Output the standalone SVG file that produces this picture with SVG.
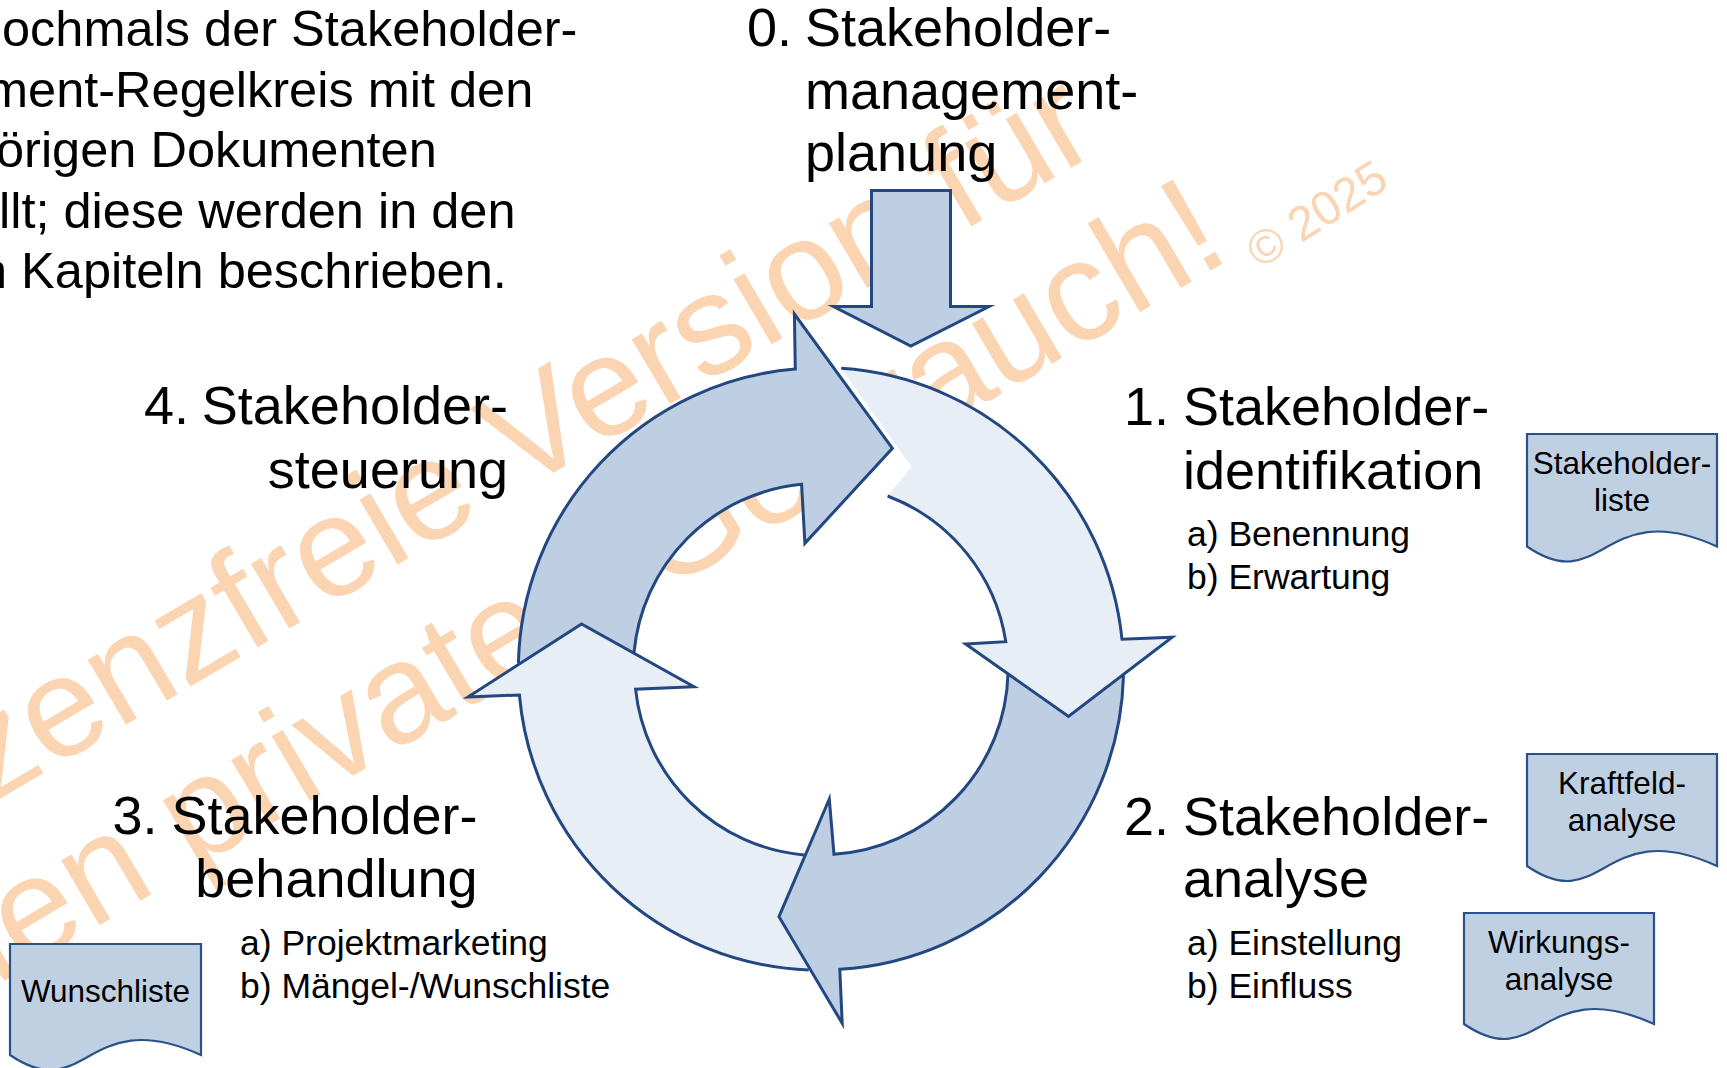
<svg xmlns="http://www.w3.org/2000/svg" width="1727" height="1068" viewBox="0 0 1727 1068">
<style>
.t{font-family:"Liberation Sans",Arial,sans-serif;fill:#000}
.h{font-size:54px}
.p{font-size:50.5px}
.s{font-size:35.5px}
.d{font-size:31.5px;text-anchor:middle}
.e{text-anchor:end}
.wm{font-family:"Liberation Sans",Arial,sans-serif;fill:#FBD4B2}
.dark{fill:#BFCFE3;stroke:none}
.light{fill:#E8EEF6;stroke:none}
.ol{fill:none;stroke:#234780;stroke-width:3;stroke-linejoin:miter;stroke-miterlimit:10}
.doc{fill:#C0D0E3;stroke:#2B5189;stroke-width:2.2}
</style>
<rect x="0" y="0" width="1727" height="1068" fill="#fff"/>

<g id="watermark">
<text class="wm" font-size="142" transform="translate(-107,861.8) rotate(-30.5)">Lizenzfreie Version für</text>
<text class="wm" font-size="142" transform="translate(-45.2,1010.1) rotate(-30.5)">den privaten Gebrauch!</text>
<text class="wm" font-size="48" transform="translate(1260,269.5) rotate(-32.5)">© 2025</text>
</g>

<g id="connectors">
<path class="dark" d="M518.4,663.3 A302,302 0 0 1 795.3,369 L794.4,314 L892.4,448.3 L804.9,543.3 L801.6,484.3 A186,186 0 0 0 634,652.7 L581.5,624 Z"/>
<path class="light" d="M841.2,368.3 A302,302 0 0 1 1122,639.3 L1172.2,637.3 L1068.5,716.5 L965.6,644 L1005.8,641.7 A186,186 0 0 0 887.6,496 L911.6,466.7 Z"/>
<path class="dark" d="M1123.5,675.5 A302,302 0 0 1 839.8,969.3 L842.2,1023.3 L779,916.7 L829.3,799 L834,854.3 A186,186 0 0 0 1008,673.5 L1068.5,716.5 Z"/>
<path class="light" d="M808.7,970 A302,302 0 0 1 519.4,695 L468,697 L581.5,624 L694,686.7 L635.6,689.3 A186,186 0 0 0 804,855 L779,916.7 Z"/>
<path class="ol" d="M518.4,663.3 A302,302 0 0 1 795.3,369 L794.4,314 L892.4,448.3 L804.9,543.3 L801.6,484.3 A186,186 0 0 0 634,652.7"/>
<path class="ol" d="M841.2,368.3 A302,302 0 0 1 1122,639.3 L1172.2,637.3 L1068.5,716.5 L965.6,644 L1005.8,641.7 A186,186 0 0 0 887.6,496"/>
<path class="ol" d="M1123.5,675.5 A302,302 0 0 1 839.8,969.3 L842.2,1023.3 L779,916.7 L829.3,799 L834,854.3 A186,186 0 0 0 1008,673.5"/>
<path class="ol" d="M808.7,970 A302,302 0 0 1 519.4,695 L468,697 L581.5,624 L694,686.7 L635.6,689.3 A186,186 0 0 0 804,855"/>
<path class="dark" d="M871.5,190.5 H950.5 V306.5 H989 L910.8,346 L833.5,306.5 H871.5 Z"/>
<path class="ol" d="M871.5,190.5 H950.5 V306.5 H989 L910.8,346 L833.5,306.5 H871.5 Z"/>
</g>

<g id="intro" class="t p">
<text x="2" y="46">ochmals der Stakeholder-</text>
<text x="-14" y="106.6">ment-Regelkreis mit den</text>
<text x="-4" y="167.2">örigen Dokumenten</text>
<text x="-1" y="227.8">llt; diese werden in den</text>
<text x="-21" y="288.4">n Kapiteln beschrieben.</text>
</g>

<g id="step0" class="t h">
<text x="747" y="46">0.</text>
<text x="805" y="46">Stakeholder-</text>
<text x="805" y="108.5">management-</text>
<text x="805" y="171">planung</text>
</g>

<g id="step1" class="t">
<text class="h" x="1124" y="425">1.</text>
<text class="h" x="1183" y="425">Stakeholder-</text>
<text class="h" x="1183" y="489">identifikation</text>
<text class="s" x="1187" y="546">a) Benennung</text>
<text class="s" x="1187" y="589">b) Erwartung</text>
</g>

<g id="step2" class="t">
<text class="h" x="1124" y="835">2.</text>
<text class="h" x="1183" y="835">Stakeholder-</text>
<text class="h" x="1183" y="897">analyse</text>
<text class="s" x="1187" y="955">a) Einstellung</text>
<text class="s" x="1187" y="998">b) Einfluss</text>
</g>

<g id="step3" class="t">
<text class="h" x="112.5" y="834">3.</text>
<text class="h e" x="477.6" y="834">Stakeholder-</text>
<text class="h e" x="477.6" y="897">behandlung</text>
<text class="s" x="240" y="955">a) Projektmarketing</text>
<text class="s" x="240" y="998">b) Mängel-/Wunschliste</text>
</g>

<g id="step4" class="t">
<text class="h" x="144" y="424">4.</text>
<text class="h e" x="508" y="424">Stakeholder-</text>
<text class="h e" x="508" y="488">steuerung</text>
</g>

<g id="doc-stakeholderliste">
<path class="doc" d="M1527,434 H1717 V546.5 C1603,494.5 1603,598.5 1527,546.5 Z"/>
<text class="t d" x="1622" y="474">Stakeholder-</text>
<text class="t d" x="1622" y="511">liste</text>
</g>

<g id="doc-kraftfeldanalyse">
<path class="doc" d="M1527,754 H1717 V866 C1603,814 1603,918 1527,866 Z"/>
<text class="t d" x="1622" y="794">Kraftfeld-</text>
<text class="t d" x="1622" y="831">analyse</text>
</g>

<g id="doc-wirkungsanalyse">
<path class="doc" d="M1464,913 H1654 V1024 C1540,972 1540,1076 1464,1024 Z"/>
<text class="t d" x="1559" y="953">Wirkungs-</text>
<text class="t d" x="1559" y="990">analyse</text>
</g>

<g id="doc-wunschliste">
<path class="doc" d="M10,944 H201 V1055 C86.4,1003 86.4,1107 10,1055 Z"/>
<text class="t d" x="105.5" y="1002">Wunschliste</text>
</g>
</svg>
